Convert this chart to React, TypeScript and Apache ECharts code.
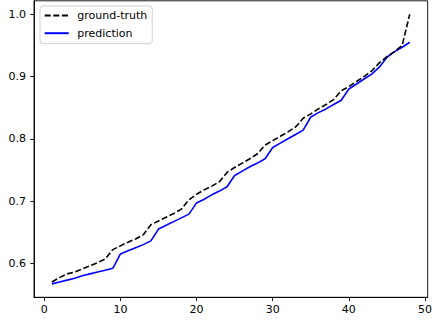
import React, { useEffect, useRef } from "react";
import * as echarts from "echarts";

const xValues = [1,2,3,4,5,6,7,8,9,10,11,12,13,14,15,16,17,18,19,20,21,22,23,24,25,26,27,28,29,30,31,32,33,34,35,36,37,38,39,40,41,42,43,44,45,46,47,48];
const groundTruth = [
  0.570, 0.577, 0.583, 0.586, 0.591, 0.596, 0.601, 0.607, 0.622,
  0.628, 0.634, 0.639, 0.646, 0.662,
  0.668, 0.674, 0.680, 0.687, 0.702,
  0.711, 0.718, 0.724, 0.731, 0.746,
  0.754, 0.761, 0.768, 0.776, 0.790,
  0.797, 0.804, 0.811, 0.819, 0.833,
  0.840, 0.848, 0.855, 0.863, 0.877,
  0.884, 0.892, 0.900, 0.909, 0.922,
  0.932, 0.940, 0.950, 1.000,
];
const prediction = [
  0.567, 0.570, 0.573, 0.576, 0.580, 0.583, 0.586, 0.589, 0.592,
  0.615, 0.620, 0.625, 0.630, 0.636,
  0.655, 0.661, 0.667, 0.673, 0.679,
  0.697, 0.703, 0.710, 0.716, 0.723,
  0.741, 0.748, 0.755, 0.761, 0.768,
  0.786, 0.793, 0.800, 0.807, 0.814,
  0.835, 0.842, 0.848, 0.855, 0.862,
  0.880, 0.888, 0.896, 0.904, 0.915,
  0.931, 0.940, 0.947, 0.955,
];
const xTicks = [0, 10, 20, 30, 40, 50];
const yTicks = [0.6, 0.7, 0.8, 0.9, 1.0];
const seriesNames = ["ground-truth", "prediction"];

export default function App() {
  const ref = useRef<HTMLDivElement>(null);
  useEffect(() => {
    if (!ref.current) return;
    const chart = echarts.init(ref.current, null, { renderer: "svg" });
    const font = "DejaVu Sans";
    const axisCommon = {
      axisLine: { show: true, onZero: false, lineStyle: { color: "#000", width: 0.9 } },
      axisTick: { show: true, length: 3.8, lineStyle: { color: "#000", width: 0.9 } },
      splitLine: { show: false },
    };
    chart.setOption({
      animation: false,
      backgroundColor: "#fff",
      grid: { left: 34, top: 0.8, width: 398.5, height: 296.5, show: true, borderColor: "#000", borderWidth: 0.9, containLabel: false },
      legend: {
        orient: "vertical",
        left: 40,
        top: 6,
        padding: [4, 5, 5, 3.7],
        itemWidth: 24,
        itemHeight: 10,
        itemGap: 6.7,
        backgroundColor: "rgba(255,255,255,0.8)",
        borderColor: "#d0d0d0",
        borderWidth: 1,
        borderRadius: 3,
        itemStyle: { opacity: 0 },
        textStyle: { fontFamily: font, fontSize: 11, color: "#000", padding: [0, 0, 0, 3.6] },
        data: seriesNames,
      },
      xAxis: {
        type: "value",
        min: -1.35,
        max: 50.35,
        ...axisCommon,
        axisTick: { ...axisCommon.axisTick, customValues: xTicks },
        axisLabel: { customValues: xTicks, margin: 7, fontFamily: font, fontSize: 11, color: "#000" },
      },
      yAxis: {
        type: "value",
        min: 0.5454,
        max: 1.02165,
        ...axisCommon,
        axisTick: { ...axisCommon.axisTick, customValues: yTicks },
        axisLabel: {
          customValues: yTicks,
          margin: 8,
          fontFamily: font,
          fontSize: 11,
          color: "#000",
          formatter: (v: number) => v.toFixed(1),
        },
      },
      series: [
        {
          name: seriesNames[0],
          type: "line",
          data: xValues.map((x, i) => [x, groundTruth[i]]),
          symbol: "none",
          lineStyle: { color: "#000", width: 1.6, type: [6, 2.6] },
          itemStyle: { color: "#000" },
          z: 3,
        },
        {
          name: seriesNames[1],
          type: "line",
          data: xValues.map((x, i) => [x, prediction[i]]),
          symbol: "none",
          lineStyle: { color: "#0000ff", width: 1.6 },
          itemStyle: { color: "#0000ff" },
          z: 2,
        },
      ],
    });
    return () => chart.dispose();
  }, []);
  return (
    <div
      ref={ref}
      style={{ position: "fixed", left: 0, top: 0, width: 435, height: 322 }}
    />
  );
}
